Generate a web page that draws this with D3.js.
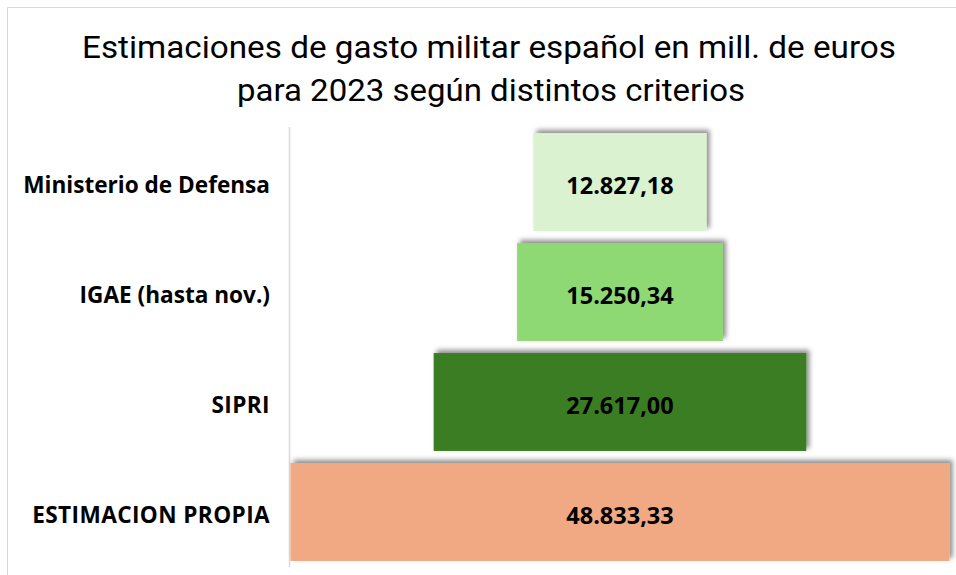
<!DOCTYPE html>
<html>
<head>
<meta charset="utf-8">
<script src="https://cdn.jsdelivr.net/npm/d3@7"></script>
<style>
  html, body { margin: 0; padding: 0; background: #fff; }
  svg { display: block; }
</style>
</head>
<body>
<svg id="chart" width="956" height="575"></svg>
<script>
const categories = ["Ministerio de Defensa", "IGAE (hasta nov.)", "SIPRI", "ESTIMACION PROPIA"];
const values = [12827.18, 15250.34, 27617.00, 48833.33];
const valueLabels = ["12.827,18", "15.250,34", "27.617,00", "48.833,33"];
const colors = ["#DAF2D0", "#8ED973", "#3B7D23", "#F1A983"];
const titleLines = ["Estimaciones de gasto militar español en mill. de euros", "para 2023 según distintos criterios"];

const W = 956, H = 575;
const svg = d3.select("#chart");

// outer chart border (only top and left visible in the crop)
svg.append("path")
  .attr("d", `M7.5,${H} L7.5,7.5 L${W},7.5`)
  .attr("fill", "none").attr("stroke", "#d9d9d9").attr("stroke-width", 1);

const defs = svg.append("defs");
const f = defs.append("filter").attr("id", "sh")
  .attr("x", "-10%").attr("y", "-30%").attr("width", "120%").attr("height", "160%");
f.append("feDropShadow").attr("dx", 3).attr("dy", -3).attr("stdDeviation", 2.5)
  .attr("flood-color", "#000").attr("flood-opacity", 0.45);

// title
const tY = [58, 101];
const tX = [[82, 896], [237, 745]];
titleLines.forEach((t, i) => {
  svg.append("text")
    .attr("x", (tX[i][0] + tX[i][1]) / 2).attr("y", tY[i])
    .attr("text-anchor", "middle")
    .attr("font-family", "Roboto, 'DejaVu Sans Condensed', sans-serif")
    .attr("font-size", 32)
    .attr("textLength", tX[i][1] - tX[i][0])
    .attr("lengthAdjust", "spacingAndGlyphs")
    .attr("fill", "#000")
    .text(t);
});

const plotLeft = 290, plotRight = 950;
const centerX = (plotLeft + plotRight) / 2;
const x = d3.scaleLinear().domain([0, d3.max(values)]).range([0, plotRight - plotLeft - 1]);
const y = d3.scaleBand().domain(categories).range([127, 567]).paddingInner(0.11).paddingOuter(0.055);

// axis line
svg.append("line")
  .attr("x1", plotLeft - 0.5).attr("x2", plotLeft - 0.5)
  .attr("y1", 127).attr("y2", 567)
  .attr("stroke", "#d9d9d9").attr("stroke-width", 1.5);

const g = svg.append("g");
g.selectAll("rect").data(categories).join("rect")
  .attr("x", (d, i) => centerX - x(values[i]) / 2)
  .attr("width", (d, i) => x(values[i]))
  .attr("y", d => y(d))
  .attr("height", y.bandwidth())
  .attr("fill", (d, i) => colors[i])
  .attr("filter", "url(#sh)");

g.selectAll("text.val").data(categories).join("text")
  .attr("class", "val")
  .attr("x", centerX)
  .attr("y", d => y(d) + y.bandwidth() / 2)
  .attr("dy", "0.53em")
  .attr("text-anchor", "middle")
  .attr("font-family", "'Open Sans', 'Noto Sans', sans-serif")
  .attr("font-weight", "bold")
  .attr("font-size", 23.5)
  .attr("fill", "#000")
  .text((d, i) => valueLabels[i]);

// category labels
svg.selectAll("text.cat").data(categories).join("text")
  .attr("class", "cat")
  .attr("x", 270)
  .attr("y", d => y(d) + y.bandwidth() / 2)
  .attr("dy", "0.5em")
  .attr("text-anchor", "end")
  .attr("font-family", "'Open Sans', 'Noto Sans', sans-serif")
  .attr("font-weight", "bold")
  .attr("font-size", 22.6)
  .attr("letter-spacing", d => d === d.toUpperCase() ? "0.4px" : "0px")
  .attr("fill", "#000")
  .text(d => d);
</script>
</body>
</html>
